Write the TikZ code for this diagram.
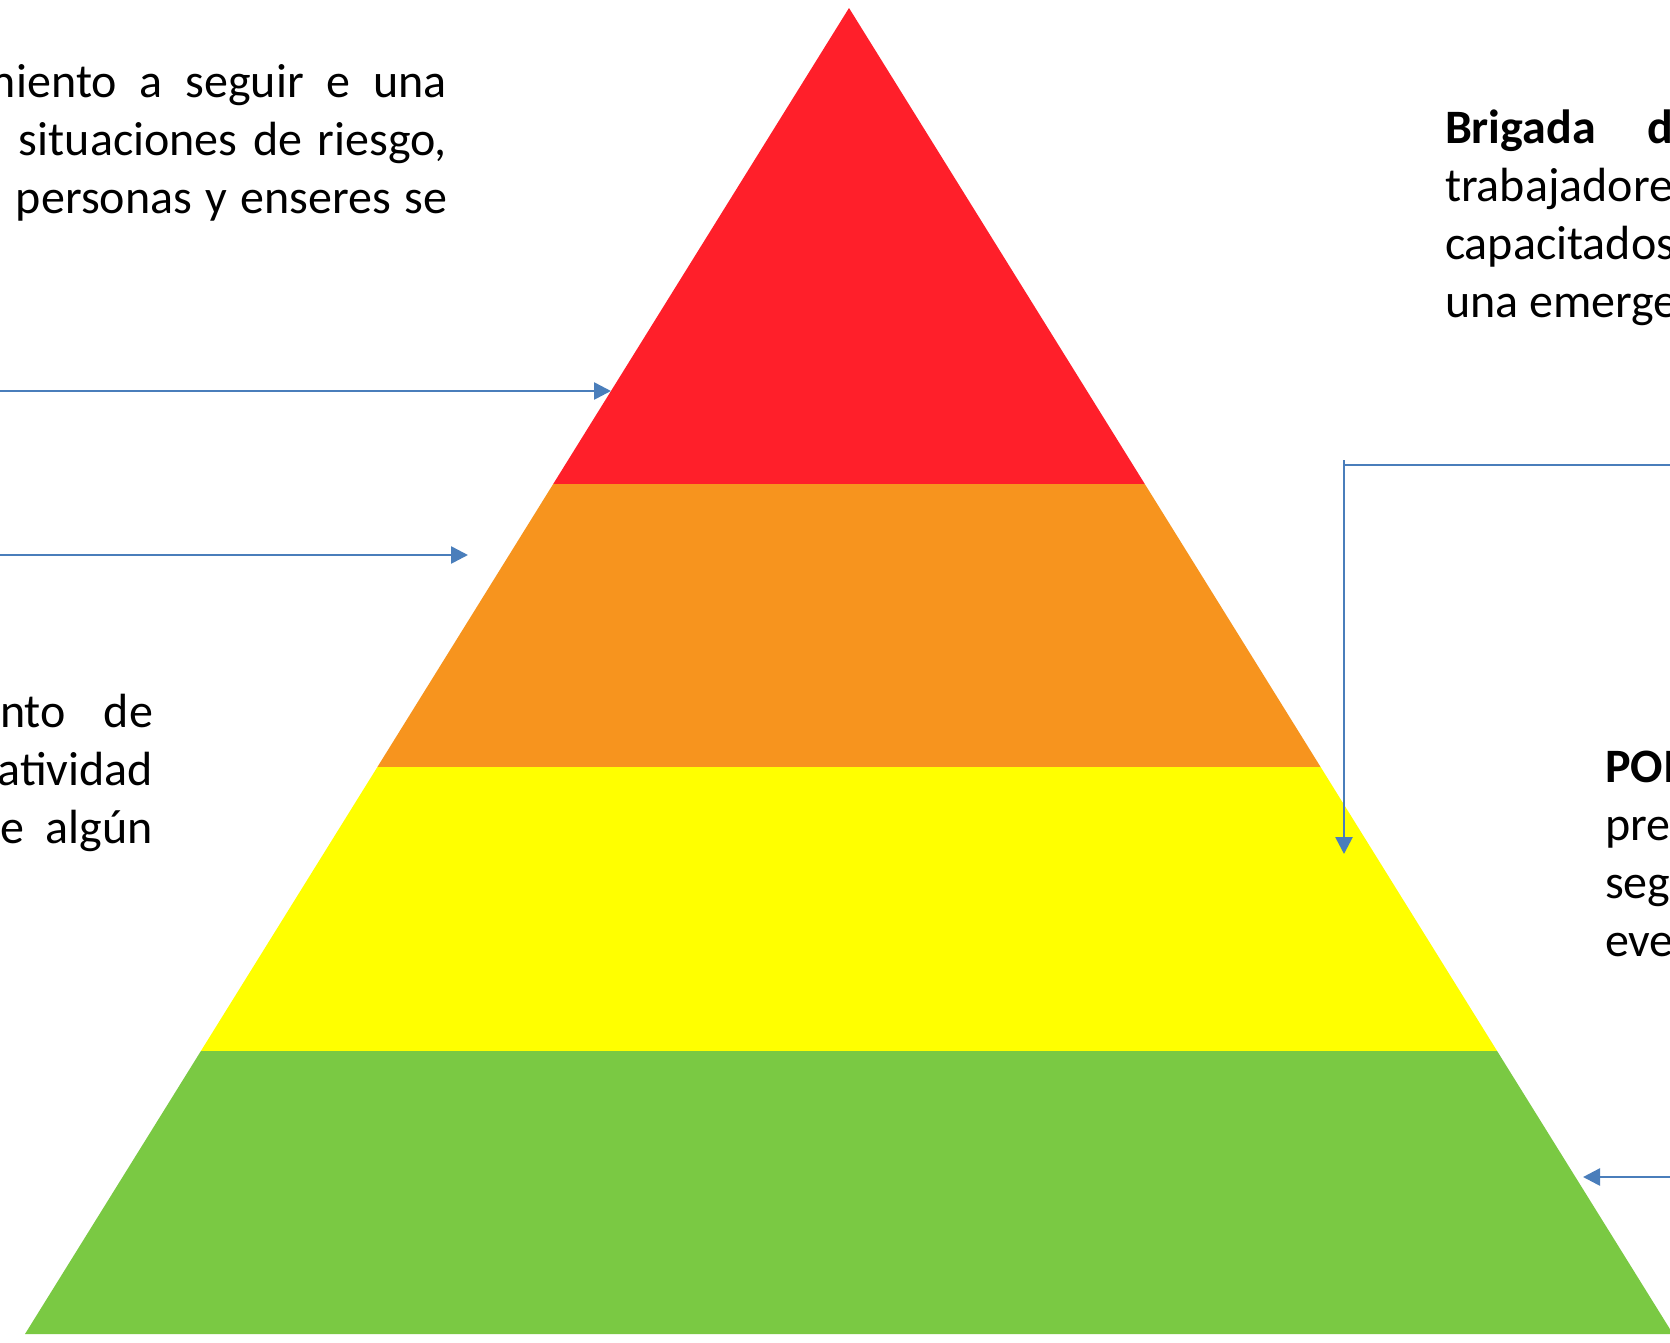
\documentclass[tikz,border=0pt]{standalone}
\usepackage{fontspec}
\setmainfont{Carlito}
\usetikzlibrary{arrows.meta}
\definecolor{pred}{HTML}{FF1F2A}
\definecolor{porange}{HTML}{F7941E}
\definecolor{pyellow}{HTML}{FFFF00}
\definecolor{pgreen}{HTML}{7AC943}
\definecolor{arrowblue}{HTML}{4A7EBB}
\tikzset{
  txt/.style={inner sep=0pt, outer sep=0pt, font=\fontsize{48}{58}\selectfont},
  conn/.style={draw=arrowblue, line width=2.6pt, -{Triangle[length=17pt,width=17pt]}},
  plainconn/.style={draw=arrowblue, line width=2.6pt}
}
\begin{document}
\begin{tikzpicture}[x=1pt,y=-1pt]
\useasboundingbox (0,0) rectangle (1670,1342);
\fill[white] (0,0) rectangle (1670,1342);
% pyramid bands
\fill[pred]    (849,8) -- (1144.8,484) -- (553.2,484) -- cycle;
\fill[porange] (553.2,484) -- (1144.8,484) -- (1320.6,767) -- (377.4,767) -- cycle;
\fill[pyellow] (377.4,767) -- (1320.6,767) -- (1497.1,1051) -- (200.9,1051) -- cycle;
\fill[pgreen]  (200.9,1051) -- (1497.1,1051) -- (1673,1334) -- (25,1334) -- cycle;
% left top text
\node[txt, anchor=base west] (lt1) at (-22,97) {\makebox[469pt][s]{miento a seguir e una}};
\node[txt, anchor=base west] (lt2) at (19,155) {\makebox[428pt][s]{situaciones de riesgo,}};
\node[txt, anchor=base west] (lt3) at (16,213) {\makebox[431pt][s]{personas y enseres se}};
% left bottom text
\node[txt, anchor=base west] (lb1) at (0,727) {\makebox[153pt][s]{nto de}};
\node[txt, anchor=base east] (lb2) at (153,785) {atividad};
\node[txt, anchor=base west] (lb3) at (0,843) {\makebox[153pt][s]{e algún}};
% right top text
\node[txt, anchor=base west] (rt1) at (1445,143) {\makebox[228pt][s]{\bfseries Brigada d}};
\node[txt, anchor=base west] (rt2) at (1445,201) {trabajadore};
\node[txt, anchor=base west] (rt3) at (1445,259) {capacitados};
\node[txt, anchor=base west] (rt4) at (1445,317) {una emerge};
% right bottom text
\node[txt, anchor=base west] (rb1) at (1605,782) {\bfseries POI};
\node[txt, anchor=base west] (rb2) at (1605,840) {pre};
\node[txt, anchor=base west] (rb3) at (1605,898) {seg};
\node[txt, anchor=base west] (rb4) at (1605,956) {eve};
% connectors
\coordinate (a1s) at (0,391);
\coordinate (a1e) at (611,391);
\coordinate (a2s) at (0,555);
\coordinate (a2e) at (468,555);
\coordinate (a3s) at (1672,465);
\coordinate (a3c) at (1344,465);
\coordinate (a3t) at (1344,460);
\coordinate (a3e) at (1344,854);
\coordinate (a4s) at (1672,1177);
\coordinate (a4e) at (1583,1177);
\draw[conn] (a1s) -- (a1e);
\draw[conn] (a2s) -- (a2e);
\draw[plainconn] (a3s) -- (a3c);
\draw[conn] (a3t) -- (a3e);
\draw[conn] (a4s) -- (a4e);
\end{tikzpicture}
\end{document}
